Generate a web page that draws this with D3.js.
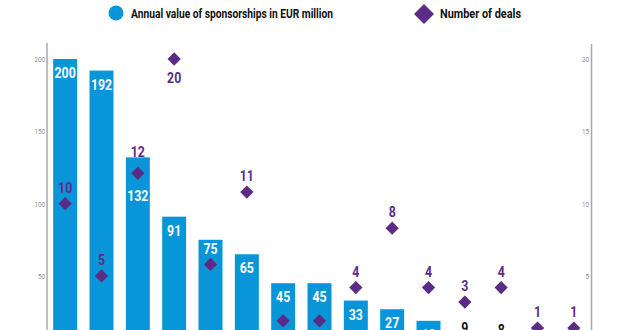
<!DOCTYPE html>
<html><head><meta charset="utf-8">
<script src="https://cdn.jsdelivr.net/npm/d3@7/dist/d3.min.js"></script>
<style>
html,body{margin:0;padding:0;background:#fff;}
svg{display:block;font-family:Roboto,"Liberation Sans",sans-serif;}
</style></head>
<body>
<svg id="c" width="620" height="330"></svg>
<script>
const categories = ["C1","C2","C3","C4","C5","C6","C7","C8","C9","C10","C11","C12","C13","C14","C15"];
const sponsorValues = [200,192,132,91,75,65,45,45,33,27,19,9,8,2,1];
const sponsorLabels = ["200","192","132","91","75","65","45","45","33","27","19","9","8","2","1"];
const dealValues = [10,5,12.1,20,5.8,10.8,1.9,1.9,4.2,8.3,4.2,3.2,4.2,1.4,1.4];
const dealLabels = ["10","5","12","20","","11","","","4","8","4","3","4","1","1"];
const leftTicks = [50,100,150,200];
const rightTicks = [5,10,15,20];
const legendLabels = ["Annual value of sponsorships in EUR million","Number of deals"];

const BLUE = "#0996d8", PURPLE = "#5b2c86", GRAY = "#a8a8a8";
const svg = d3.select("#c");

const x = d3.scaleBand().domain(categories).range([47, 592]).paddingInner(0.34).paddingOuter(0.17);
const y = d3.scaleLinear().domain([0, 200]).range([348.3, 59]);
const y2 = d3.scaleLinear().domain([0, 20]).range([348.3, 59]);

function condense(sel, f){
  sel.each(function(){
    const w = this.getComputedTextLength();
    if (w > 0) d3.select(this).attr("textLength", w * f).attr("lengthAdjust", "spacingAndGlyphs");
  });
}

// axes
svg.append("line").attr("x1",47).attr("x2",47).attr("y1",43).attr("y2",330)
  .attr("stroke",GRAY).attr("stroke-width",1.5);
svg.append("line").attr("x1",591.5).attr("x2",591.5).attr("y1",44).attr("y2",330)
  .attr("stroke",GRAY).attr("stroke-width",1.5);

const gl = svg.append("g").attr("transform","translate(47,0)")
  .call(d3.axisLeft(y).tickValues(leftTicks).tickSize(0).tickPadding(2));
const gr = svg.append("g").attr("transform","translate(591,0)")
  .call(d3.axisLeft(y2).tickValues(rightTicks).tickSize(0).tickPadding(2));
[gl, gr].forEach(g => {
  g.select(".domain").remove();
  g.selectAll("text").attr("fill","#8f8f8f").style("font-size","8px").style("font-family","Roboto");
  condense(g.selectAll("text"), 0.78);
});

// bars
svg.append("g").selectAll("rect").data(categories).join("rect")
  .attr("x", d => x(d))
  .attr("y", (d,i) => y(sponsorValues[i]))
  .attr("width", x.bandwidth())
  .attr("height", (d,i) => y(0) - y(sponsorValues[i]))
  .attr("fill", BLUE);

// bar labels
const barLab = svg.append("g").selectAll("text").data(categories).join("text")
  .attr("x", d => x(d) + x.bandwidth()/2)
  .attr("text-anchor","middle")
  .style("font-size","15px").style("font-weight","700")
  .each(function(d,i){
    const top = y(sponsorValues[i]);
    const h = y(0) - top;
    const dy = y2(dealValues[i]);
    let base = top + 19, fill = "#fff";
    if (h < 22) { base = top - 2; fill = "#111"; }
    else if (dy > top - 8 && dy - 7 < base + 2) {
      base = (dy - top >= 24) ? dy - 10 : dy + 28;
    }
    d3.select(this).attr("y", base).attr("fill", fill).text(sponsorLabels[i]);
  });
condense(barLab, 0.82);

// diamonds
const diamond = d3.symbol(d3.symbolSquare, 88)();
svg.append("g").selectAll("path").data(categories).join("path")
  .attr("d", diamond)
  .attr("transform", (d,i) => `translate(${x(d) + x.bandwidth()/2},${y2(dealValues[i])}) rotate(45)`)
  .attr("fill", PURPLE);

// deal labels
const dealLab = svg.append("g").selectAll("text").data(categories).join("text")
  .attr("x", d => x(d) + x.bandwidth()/2)
  .attr("text-anchor","middle")
  .style("font-size","15px").style("font-weight","700")
  .attr("fill", PURPLE)
  .each(function(d,i){
    const top = y(sponsorValues[i]);
    const dy = y2(dealValues[i]);
    let base = dy - 11;
    if (base - 11 < 50) base = dy + 24;
    else if (dy > top && dy - top < 24) base = top;
    d3.select(this).attr("y", base).text(dealLabels[i]);
  });
condense(dealLab, 0.82);

// legend
svg.append("circle").attr("cx",116).attr("cy",13).attr("r",7.5).attr("fill",BLUE);
svg.append("text").attr("x",131).attr("y",18).text(legendLabels[0])
  .style("font-size","13px").style("font-weight","700").attr("fill","#111")
  .attr("textLength",202).attr("lengthAdjust","spacingAndGlyphs");
svg.append("path").attr("d", d3.symbol(d3.symbolSquare, 200)())
  .attr("transform","translate(424,14) rotate(45)").attr("fill",PURPLE);
svg.append("text").attr("x",440).attr("y",18).text(legendLabels[1])
  .style("font-size","13px").style("font-weight","700").attr("fill","#111")
  .attr("textLength",81).attr("lengthAdjust","spacingAndGlyphs");
</script>
</body></html>
